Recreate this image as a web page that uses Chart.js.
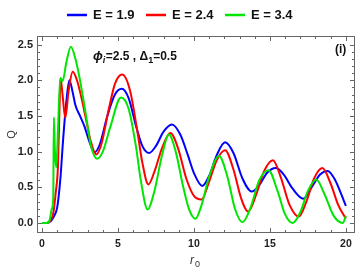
<!DOCTYPE html>
<html>
<head>
<meta charset="utf-8">
<script src="https://cdn.jsdelivr.net/npm/chart.js@4.4.0/dist/chart.umd.min.js"></script>
<style>
  html, body { margin: 0; padding: 0; background: #fff; }
  #wrap { width: 360px; height: 270px; }
</style>
</head>
<body>
<div id="wrap"><canvas id="qChart"></canvas></div>
<script>
// Series (r0 positions and Q values)
const seriesLabels = ['E = 1.9', 'E = 2.4', 'E = 3.4'];
const seriesColors = ['#0000ff', '#ff0000', '#00e600'];

const blueX = [0, 0.3, 0.6, 0.8, 1.0, 1.2, 1.4, 1.6, 1.8, 2.0, 2.2, 2.5, 2.8, 3.1, 3.45, 3.8, 4.3, 4.8, 5.25, 5.7, 6.2, 6.6, 7.05, 7.5, 8.0, 8.55, 9.1, 9.6, 10.0, 10.55, 11.0, 11.5, 12.05, 12.6, 13.2, 13.8, 14.3, 14.8, 15.4, 15.9, 16.5, 17.2, 17.8, 18.3, 18.8, 19.3, 19.7, 20];
const blueQ = [0, 0, 0.03, 0.1, 0.22, 0.6, 1.2, 1.7, 2.0, 1.85, 1.65, 1.5, 1.35, 1.15, 0.99, 1.1, 1.5, 1.8, 1.88, 1.75, 1.35, 1.08, 0.98, 1.08, 1.28, 1.38, 1.24, 0.95, 0.7, 0.52, 0.66, 0.95, 1.13, 0.98, 0.62, 0.44, 0.53, 0.7, 0.77, 0.68, 0.48, 0.34, 0.52, 0.68, 0.73, 0.6, 0.4, 0.24];

const redX = [0, 0.3, 0.55, 0.75, 0.9, 1.05, 1.15, 1.22, 1.35, 1.53, 1.75, 2.02, 2.3, 2.6, 2.9, 3.2, 3.57, 3.9, 4.4, 4.8, 5.28, 5.8, 6.3, 6.6, 7.0, 7.4, 7.9, 8.45, 8.95, 9.5, 10.0, 10.5, 11.0, 11.5, 12.05, 12.6, 13.1, 13.57, 14.1, 14.6, 15.2, 15.7, 16.3, 16.9, 17.4, 17.9, 18.45, 19.0, 19.5, 20];
const redQ = [0, 0, 0.03, 0.15, 0.42, 0.8, 1.6, 2.03, 1.8, 1.47, 1.85, 2.12, 2.0, 1.75, 1.45, 1.15, 0.96, 1.1, 1.6, 1.95, 2.08, 1.85, 1.25, 0.85, 0.54, 0.72, 1.05, 1.26, 1.05, 0.62, 0.38, 0.33, 0.58, 0.88, 1.02, 0.75, 0.35, 0.16, 0.4, 0.72, 0.88, 0.65, 0.25, 0.09, 0.3, 0.62, 0.77, 0.55, 0.25, 0.06];

const greenX = [0, 0.3, 0.5, 0.65, 0.74, 0.78, 0.85, 0.94, 1.05, 1.2, 1.36, 1.6, 1.9, 2.2, 2.5, 2.9, 3.2, 3.62, 4.0, 4.5, 5.2, 5.7, 6.2, 6.5, 6.95, 7.4, 7.9, 8.35, 8.8, 9.3, 9.7, 10.1, 10.5, 11.0, 11.65, 12.2, 12.7, 13.2, 13.7, 14.3, 14.9, 15.5, 16.0, 16.5, 17.0, 17.5, 18.05, 18.6, 19.2, 19.8, 20];
const greenQ = [0, 0, 0.04, 0.2, 0.35, 1.48, 1.0, 0.78, 1.3, 2.03, 1.99, 2.25, 2.47, 2.3, 2.0, 1.5, 1.1, 0.9, 1.0, 1.35, 1.76, 1.6, 1.05, 0.6, 0.19, 0.45, 0.95, 1.24, 1.0, 0.5, 0.18, 0.06, 0.25, 0.65, 0.94, 0.65, 0.2, 0.01, 0.2, 0.6, 0.74, 0.45, 0.12, 0.0, 0.15, 0.45, 0.61, 0.4, 0.1, 0.0, 0.1];

const xTickValues = [0, 5, 10, 15, 20];
const yTickValues = [0, 0.5, 1, 1.5, 2, 2.5];

const FONT = '"Liberation Sans", Arial, sans-serif';
const FRAME = '#666666';

function toPoints(xs, ys) {
    return xs.map((x, i) => ({ x: x, y: ys[i] }));
}

// Frame with inward ticks, labels and legend drawn like the original
const framePlugin = {
    id: 'frame',
    afterDraw(chart) {
        const ctx = chart.ctx;
        const a = chart.chartArea;
        const xs = chart.scales.x;
        const ys = chart.scales.y;
        ctx.save();
        ctx.strokeStyle = FRAME;
        ctx.lineWidth = 1;
        ctx.strokeRect(a.left + 0.5, a.top + 0.5, a.right - a.left - 1, a.bottom - a.top - 1);

        ctx.beginPath();
        for (let v = 0; v <= 20; v += 1) {
            const px = Math.round(xs.getPixelForValue(v)) + 0.5;
            const len = v % 5 === 0 ? 5 : 3;
            ctx.moveTo(px, a.bottom); ctx.lineTo(px, a.bottom - len);
            ctx.moveTo(px, a.top); ctx.lineTo(px, a.top + len);
        }
        for (let k = 0; k <= 25; k++) {
            const v = k / 10;
            const py = Math.round(ys.getPixelForValue(v)) + 0.5;
            const len = k % 5 === 0 ? 5 : 3;
            ctx.moveTo(a.left, py); ctx.lineTo(a.left + len, py);
            ctx.moveTo(a.right, py); ctx.lineTo(a.right - len, py);
        }
        ctx.stroke();

        // axis labels
        ctx.fillStyle = '#333';
        ctx.font = '11px ' + FONT;
        ctx.save();
        ctx.translate(12, (a.top + a.bottom) / 2);
        ctx.rotate(-Math.PI / 2);
        ctx.textAlign = 'center';
        ctx.textBaseline = 'middle';
        ctx.fillText('Q', 0, 0);
        ctx.restore();

        ctx.textBaseline = 'alphabetic';
        ctx.textAlign = 'left';
        ctx.font = 'italic 12px ' + FONT;
        ctx.fillText('r', 190, 264);
        ctx.font = '9px ' + FONT;
        ctx.fillText('0', 195, 267);

        // annotation
        ctx.fillStyle = '#111';
        let x = 93;
        const base = 60;
        ctx.font = 'italic bold 13px ' + FONT;
        ctx.fillText('\u03d5', x, base); x += ctx.measureText('\u03d5').width;
        ctx.font = 'italic bold 9px ' + FONT;
        ctx.fillText('i', x, base + 3); x += ctx.measureText('i').width + 0.5;
        ctx.font = 'bold 12px ' + FONT;
        let s = '=2.5 , \u0394';
        ctx.fillText(s, x, base); x += ctx.measureText(s).width;
        ctx.font = 'bold 9px ' + FONT;
        ctx.fillText('1', x, base + 3); x += ctx.measureText('1').width;
        ctx.font = 'bold 12px ' + FONT;
        ctx.fillText('=0.5', x, base);

        ctx.font = 'bold 12px ' + FONT;
        ctx.fillText('(i)', 335, 53);

        // legend
        const legendX = [67, 146, 225];
        ctx.font = 'bold 13px ' + FONT;
        ctx.textBaseline = 'middle';
        seriesLabels.forEach((label, i) => {
            ctx.strokeStyle = seriesColors[i];
            ctx.lineWidth = 2.5;
            ctx.beginPath();
            ctx.moveTo(legendX[i], 15);
            ctx.lineTo(legendX[i] + 20, 15);
            ctx.stroke();
            ctx.fillStyle = '#111';
            ctx.fillText(label, legendX[i] + 26, 15);
        });
        ctx.restore();
    }
};

const datasets = [
    { label: seriesLabels[0], data: toPoints(blueX, blueQ), borderColor: seriesColors[0], order: 2 },
    { label: seriesLabels[1], data: toPoints(redX, redQ), borderColor: seriesColors[1], order: 1 },
    { label: seriesLabels[2], data: toPoints(greenX, greenQ), borderColor: seriesColors[2], order: 0 }
].map(d => Object.assign(d, {
    borderWidth: 2,
    pointRadius: 0,
    fill: false,
    cubicInterpolationMode: 'monotone'
}));

const ctx = document.getElementById('qChart').getContext('2d');
new Chart(ctx, {
    type: 'line',
    data: { datasets: datasets },
    options: {
        responsive: true,
        maintainAspectRatio: false,
        animation: false,
        layout: { padding: { top: 36, right: 5, left: 0, bottom: 0 } },
        plugins: {
            legend: { display: false },
            tooltip: { enabled: false }
        },
        scales: {
            x: {
                type: 'linear',
                min: -0.33,
                max: 20.6,
                grid: { display: false, drawTicks: false },
                border: { display: false },
                afterBuildTicks: scale => { scale.ticks = xTickValues.map(v => ({ value: v })); },
                afterFit: scale => { scale.height = 37; },
                ticks: {
                    padding: 5,
                    maxRotation: 0,
                    color: '#222',
                    font: { family: FONT, size: 10.5, weight: 'bold' },
                    callback: v => String(v)
                }
            },
            y: {
                type: 'linear',
                min: -0.14,
                max: 2.62,
                grid: { display: false, drawTicks: false },
                border: { display: false },
                afterBuildTicks: scale => { scale.ticks = yTickValues.map(v => ({ value: v })); },
                afterFit: scale => { scale.width = 37; },
                ticks: {
                    padding: 4,
                    color: '#222',
                    font: { family: FONT, size: 11, weight: 'bold' },
                    callback: v => Number(v).toFixed(1)
                }
            }
        }
    },
    plugins: [framePlugin]
});
</script>
</body>
</html>
